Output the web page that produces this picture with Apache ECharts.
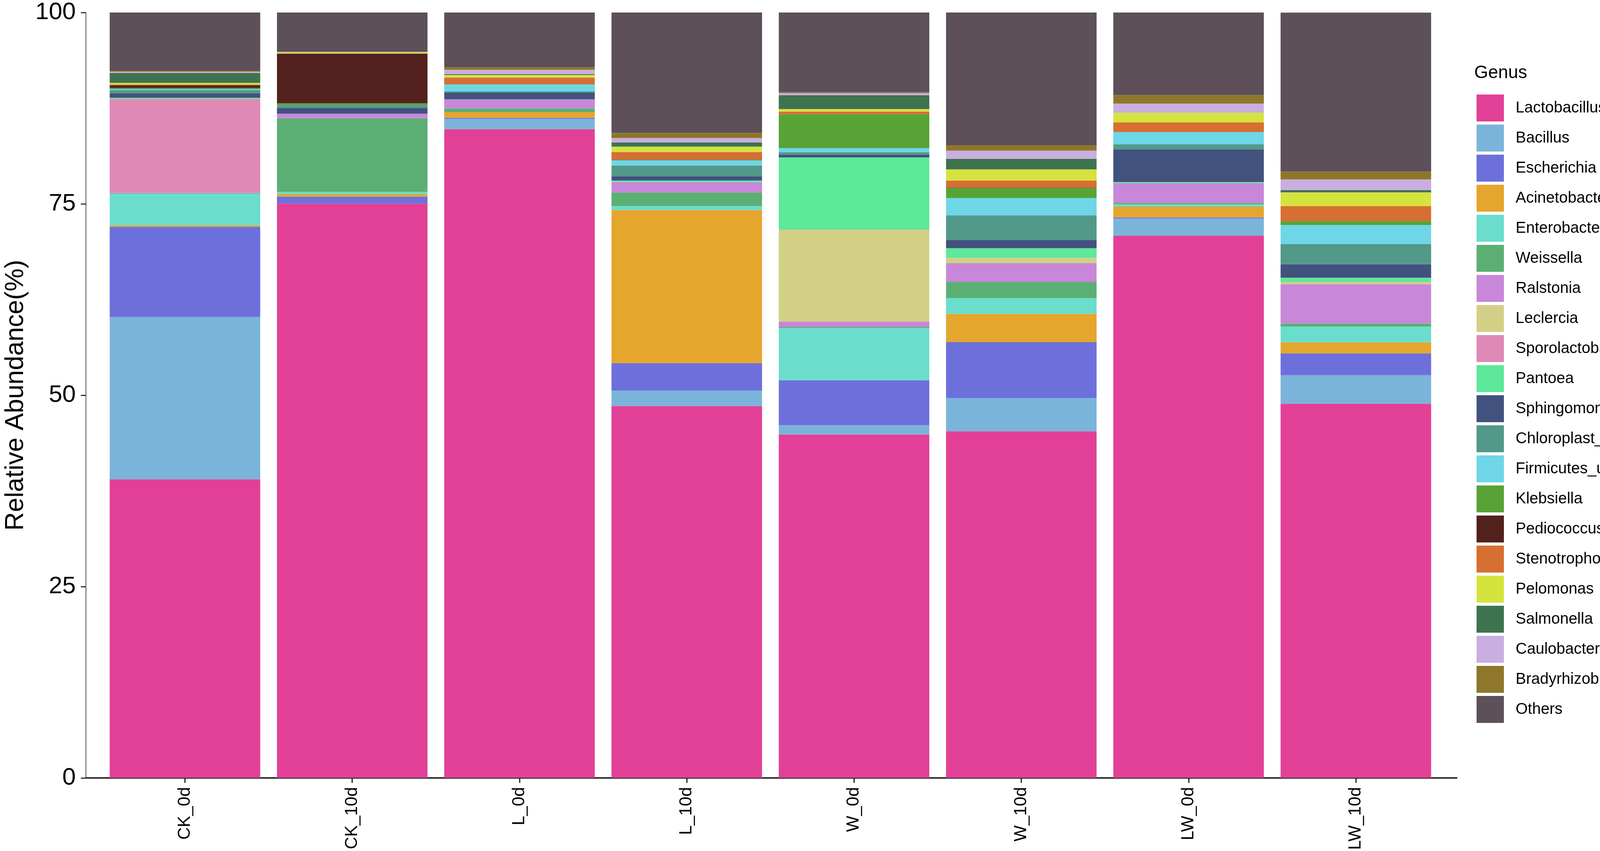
<!DOCTYPE html>
<html>
<head>
<meta charset="utf-8">
<title>Relative Abundance - Genus</title>
<script src="https://cdn.jsdelivr.net/npm/echarts@6/dist/echarts.min.js"></script>
<style>
  html, body { margin: 0; padding: 0; background: #fff; }
  #main { width: 4318px; height: 2179px; }
</style>
</head>
<body>
<div id="main"></div>
<script>
// 样本 (X轴)
var samples = ['CK_0d', 'CK_10d', 'L_0d', 'L_10d', 'W_0d', 'W_10d', 'LW_0d', 'LW_10d'];

// Y轴刻度
var yTicks = [0, 25, 50, 75, 100];

// 各属的相对丰度 (%), 顺序同 samples
var lactobacillus      = [39.0, 75.03, 84.75, 48.58, 44.85, 45.27, 70.85, 48.89];
var bacillus           = [21.2, 0, 1.34, 2.0, 1.22, 4.33, 2.23, 3.71];
var escherichia        = [11.8, 0.9, 0.14, 3.6, 5.85, 7.33, 0.14, 2.86];
var acinetobacter      = [0.2, 0.35, 0.75, 20.02, 0, 3.7, 1.42, 1.44];
var enterobacter       = [4.1, 0.3, 0, 0.5, 6.86, 2.06, 0.3, 2.07];
var weissella          = [0.1, 9.6, 0.48, 1.78, 0.14, 2.09, 0.15, 0.38];
var ralstonia          = [0.1, 0.6, 1.2, 1.34, 0.7, 2.46, 2.62, 5.16];
var leclercia          = [0, 0, 0, 0, 12.0, 0.7, 0, 0.28];
var sporolactobacillus = [12.2, 0, 0, 0, 0, 0, 0, 0];
var pantoea            = [0.15, 0, 0, 0.22, 9.44, 1.26, 0.14, 0.56];
var sphingomonas       = [0.6, 0.75, 0.89, 0.56, 0.39, 1.09, 4.24, 1.76];
var chloroplast        = [0.4, 0.35, 0.14, 1.4, 0.31, 3.21, 0.7, 2.65];
var firmicutes         = [0.15, 0, 0.92, 0.67, 0.53, 2.26, 1.59, 2.48];
var klebsiella         = [0.15, 0.25, 0, 0.06, 4.4, 1.31, 0, 0.5];
var pediococcus        = [0.35, 6.5, 0, 0.06, 0, 0.05, 0, 0];
var stenotrophomonas   = [0.1, 0, 0.89, 0.98, 0.36, 0.92, 1.26, 1.95];
var pelomonas          = [0.2, 0.15, 0.34, 0.7, 0.33, 1.45, 1.26, 1.81];
var salmonella         = [1.3, 0, 0.11, 0.56, 1.8, 1.4, 0, 0.28];
var caulobacter        = [0.15, 0.05, 0.56, 0.56, 0.28, 1.06, 1.2, 1.4];
var bradyrhizobium     = [0.15, 0.05, 0.33, 0.67, 0.14, 0.7, 1.12, 1.03];
var others             = [7.6, 5.12, 7.16, 15.74, 10.4, 17.35, 10.78, 20.78];

// 图例名称 (自下而上堆叠)
var genusNames = ['Lactobacillus', 'Bacillus', 'Escherichia', 'Acinetobacter', 'Enterobacter',
  'Weissella', 'Ralstonia', 'Leclercia', 'Sporolactobacillus', 'Pantoea', 'Sphingomonas',
  'Chloroplast_unclassified', 'Firmicutes_unclassified', 'Klebsiella', 'Pediococcus',
  'Stenotrophomonas', 'Pelomonas', 'Salmonella', 'Caulobacter', 'Bradyrhizobium', 'Others'];

var genusValues = [lactobacillus, bacillus, escherichia, acinetobacter, enterobacter,
  weissella, ralstonia, leclercia, sporolactobacillus, pantoea, sphingomonas,
  chloroplast, firmicutes, klebsiella, pediococcus,
  stenotrophomonas, pelomonas, salmonella, caulobacter, bradyrhizobium, others];

var genusColors = ['#E24097', '#7BB4DA', '#6D70DB', '#E4A62D', '#6ADDCC',
  '#5CAF74', '#C887D8', '#D2D086', '#DF89B6', '#5EE89A', '#42527E',
  '#52998A', '#6ED6E6', '#57A336', '#53211D',
  '#D66F31', '#D5E33E', '#3E7350', '#CAAEDF', '#8E772A', '#5D5058'];

var fontName = 'Liberation Sans, Arial, Helvetica, sans-serif';

/**
 * 生成堆叠柱状图系列
 */
function buildSeries() {
	var list = [];
	for (var i = 0; i < genusNames.length; i++) {
		list.push({
			name: genusNames[i],
			type: 'bar',
			stack: 'total',
			xAxisIndex: 2,
			yAxisIndex: 2,
			barCategoryGap: '10%',
			itemStyle: { color: genusColors[i] },
			data: genusValues[i]
		});
	}
	return list;
}

var myChart = echarts.init(document.getElementById('main'), null, { renderer: 'canvas' });

var option = {
	animation: false,
	backgroundColor: '#ffffff',
	textStyle: { fontFamily: fontName },
	title: {
		text: 'Genus',
		left: 3774,
		top: 164,
		padding: 0,
		textStyle: { fontSize: 46, fontWeight: 'normal', color: '#000', fontFamily: fontName }
	},
	legend: {
		orient: 'vertical',
		left: 3780,
		top: 242,
		padding: 0,
		icon: 'rect',
		itemWidth: 70,
		itemHeight: 69,
		itemGap: 8,
		selectedMode: false,
		data: genusNames,
		textStyle: { fontSize: 40, color: '#000', fontFamily: fontName, padding: [0, 0, 0, 25] }
	},
	grid: [
		// 外框 (面板)
		{ left: 218, right: 589, top: 32, bottom: 187, containLabel: false },
		// 柱子区域 (两侧各留 0.1 个类目宽)
		{ left: 259.4, right: 632.9, top: 32, bottom: 187, containLabel: false }
	],
	xAxis: [
		{
			gridIndex: 0, type: 'value', min: 0, max: 1, position: 'bottom',
			axisLine: { show: true, lineStyle: { color: '#111', width: 4 } },
			axisTick: { show: false }, axisLabel: { show: false }, splitLine: { show: false }
		},
		{
			gridIndex: 0, type: 'value', min: 0, max: 1, position: 'top',
			axisLine: { show: true, lineStyle: { color: '#333', width: 3 } },
			axisTick: { show: false }, axisLabel: { show: false }, splitLine: { show: false }
		},
		{
			gridIndex: 1, type: 'category', data: samples, boundaryGap: true,
			axisLine: { show: false },
			axisTick: { show: true, alignWithLabel: true, length: 13, lineStyle: { color: '#222', width: 3 } },
			axisLabel: { rotate: 90, fontSize: 44, margin: 24, color: '#000', fontFamily: fontName },
			splitLine: { show: false }
		}
	],
	yAxis: [
		{
			gridIndex: 0, type: 'value', min: 0, max: 100, interval: 25, position: 'left',
			name: 'Relative Abundance(%)',
			nameLocation: 'middle',
			nameGap: 146,
			nameRotate: 90,
			nameTextStyle: { fontSize: 66, color: '#000', fontFamily: fontName },
			axisLine: { show: true, lineStyle: { color: '#9a9a9a', width: 2 } },
			axisTick: { show: true, length: 13, lineStyle: { color: '#333', width: 3 } },
			axisLabel: {
				fontSize: 62, margin: 26, color: '#000', fontFamily: fontName,
				formatter: function (v) { return yTicks.indexOf(v) >= 0 ? String(v) : ''; }
			},
			splitLine: { show: false }
		},
		{
			gridIndex: 0, type: 'value', min: 0, max: 100, position: 'right',
			axisLine: { show: true, lineStyle: { color: '#555', width: 2 } },
			axisTick: { show: false }, axisLabel: { show: false }, splitLine: { show: false }
		},
		{
			gridIndex: 1, type: 'value', min: 0, max: 100, show: false,
			splitLine: { show: false }
		}
	],
	series: buildSeries()
};

myChart.setOption(option);
</script>
</body>
</html>
